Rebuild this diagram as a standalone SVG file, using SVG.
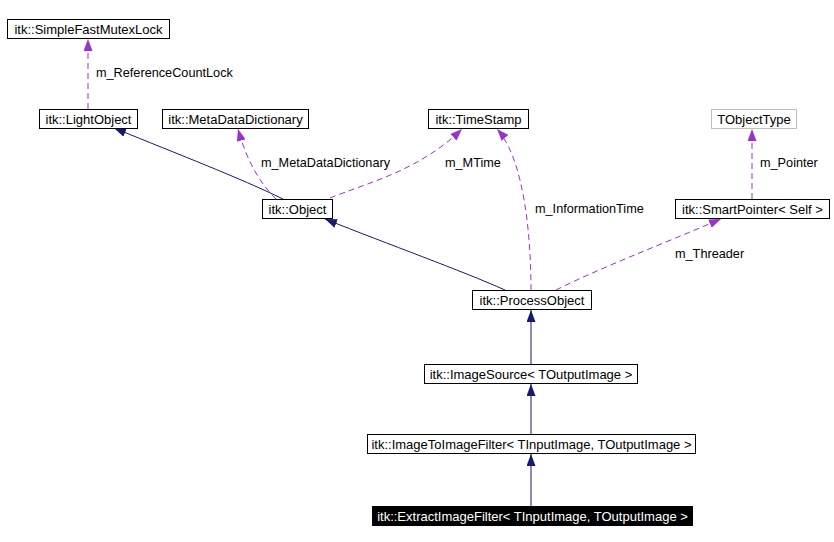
<svg xmlns="http://www.w3.org/2000/svg" width="834" height="542" viewBox="0 0 834 542">
<style>
text{font-family:"Liberation Sans",Arial,sans-serif;font-size:13px;fill:#000}
.n rect{fill:#fff;stroke:#000;stroke-width:1}
.n text{text-anchor:middle}
.inh{fill:none;stroke:#191970;stroke-width:1}
.use{fill:none;stroke:#9a32cd;stroke-width:1;stroke-dasharray:6,4}
.lbl{font-size:12.7px}
</style>
<defs>
<marker id="an" viewBox="0 0 12 9" refX="12" refY="4.5" markerWidth="12" markerHeight="9" markerUnits="userSpaceOnUse" orient="auto">
<path d="M0,0 L12,4.5 L0,9 z" fill="#191970"/>
</marker>
<marker id="ap" viewBox="0 0 12 9" refX="12" refY="4.5" markerWidth="12" markerHeight="9" markerUnits="userSpaceOnUse" orient="auto">
<path d="M0,0 L12,4.5 L0,9 z" fill="#9a32cd"/>
</marker>
</defs>
<rect width="834" height="542" fill="#fff"/>
<g id="connectors">
<path class="use" d="M88,109 L88,39" marker-end="url(#ap)"/>
<text class="lbl" x="96" y="77">m_ReferenceCountLock</text>
<path class="inh" d="M283,199 C240,178 180,155 114,128" marker-end="url(#an)"/>
<path class="use" d="M276,199 C262,185 248,165 238,129" marker-end="url(#ap)"/>
<text class="lbl" x="261" y="167">m_MetaDataDictionary</text>
<path class="use" d="M330,198 C370,182 420,170 462,129" marker-end="url(#ap)"/>
<text class="lbl" x="445" y="167">m_MTime</text>
<path class="use" d="M531,290 C531,240 525,160 497,129" marker-end="url(#ap)"/>
<text class="lbl" x="535" y="213">m_InformationTime</text>
<path class="inh" d="M505,290 C460,270 390,245 325,219" marker-end="url(#an)"/>
<path class="use" d="M556,290 C600,268 660,245 721,219" marker-end="url(#ap)"/>
<text class="lbl" x="675" y="258">m_Threader</text>
<path class="use" d="M752,199 L752,129" marker-end="url(#ap)"/>
<text class="lbl" x="760" y="167">m_Pointer</text>
<path class="inh" d="M531,364 L531,310" marker-end="url(#an)"/>
<path class="inh" d="M531,434 L531,384" marker-end="url(#an)"/>
<path class="inh" d="M531,506 L531,454" marker-end="url(#an)"/>
</g>
<g id="SimpleFastMutexLock" class="n"><rect x="7.5" y="19.5" width="162" height="19"/><text x="88.5" y="34">itk::SimpleFastMutexLock</text></g>
<g id="LightObject" class="n"><rect x="39.5" y="109.5" width="98" height="19"/><text x="88.5" y="124">itk::LightObject</text></g>
<g id="MetaDataDictionary" class="n"><rect x="162.5" y="109.5" width="146" height="19"/><text x="235.5" y="124">itk::MetaDataDictionary</text></g>
<g id="TimeStamp" class="n"><rect x="428.5" y="109.5" width="100" height="19"/><text x="478.5" y="124">itk::TimeStamp</text></g>
<g id="TObjectType" class="n"><rect x="711.5" y="109.5" width="85" height="19" style="stroke:#bfbfbf"/><text x="754" y="124">TObjectType</text></g>
<g id="Object" class="n"><rect x="262.5" y="199.5" width="70" height="19"/><text x="297.5" y="214">itk::Object</text></g>
<g id="SmartPointer" class="n"><rect x="675.5" y="199.5" width="154" height="19"/><text x="752.5" y="214">itk::SmartPointer&lt; Self &gt;</text></g>
<g id="ProcessObject" class="n"><rect x="472.5" y="290.5" width="119" height="19"/><text x="532" y="305">itk::ProcessObject</text></g>
<g id="ImageSource" class="n"><rect x="424.5" y="364.5" width="213" height="19"/><text x="531" y="379">itk::ImageSource&lt; TOutputImage &gt;</text></g>
<g id="ImageToImageFilter" class="n"><rect x="367.5" y="434.5" width="328" height="19"/><text x="531.5" y="449">itk::ImageToImageFilter&lt; TInputImage, TOutputImage &gt;</text></g>
<g id="ExtractImageFilter" class="n"><rect x="372.5" y="506.5" width="320" height="19" style="fill:#000"/><text x="532.5" y="521" style="fill:#fff">itk::ExtractImageFilter&lt; TInputImage, TOutputImage &gt;</text></g>
</svg>
